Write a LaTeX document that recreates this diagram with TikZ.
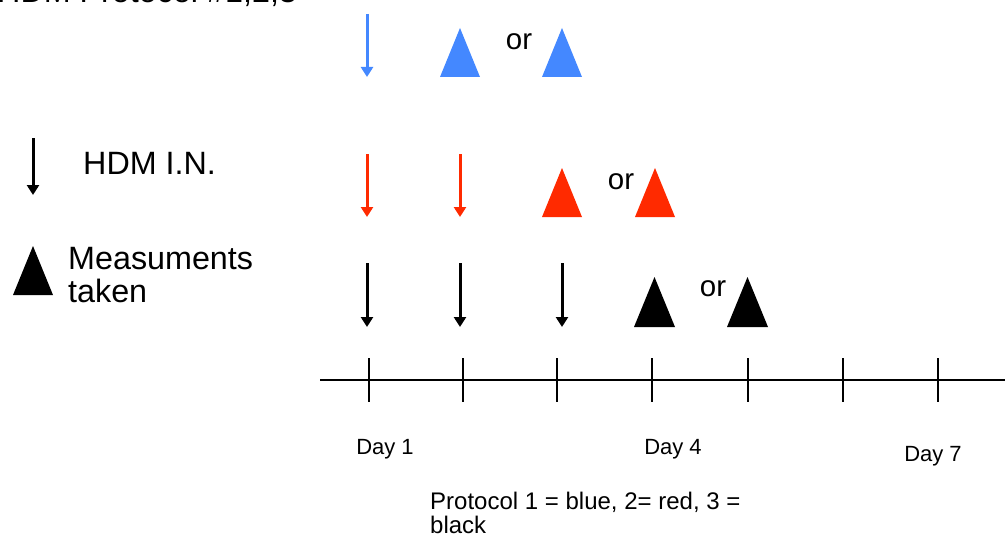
\documentclass[tikz,border=0pt]{standalone}
\usepackage{fontspec}
\setmainfont{Liberation Sans}
\usetikzlibrary{arrows.meta}
\definecolor{pblue}{RGB}{68,136,255}
\definecolor{pred}{RGB}{255,42,0}
\tikzset{
  down/.style={line width=3pt,-{Triangle[width=12pt,length=10pt]}},
  tri/.style={fill=#1},
  big/.style={font=\fontsize{32.3}{36}\selectfont, inner sep=0pt},
  ortext/.style={font=\fontsize{29.5}{34}\selectfont, inner sep=0pt},
  small/.style={font=\fontsize{22}{26}\selectfont, inner sep=0pt},
  note/.style={font=\fontsize{24}{24}\selectfont, inner sep=0pt, align=left},
}
\begin{document}
\begin{tikzpicture}[x=1pt,y=-1pt]
\clip (0,0) rectangle (1005,535);
\useasboundingbox (0,0) rectangle (1005,535);
\fill[white] (0,0) rectangle (1005,535);

% title (cut off at top)
\node[big,anchor=base west] (title) at (-3,3) {HDM Protocol \#1,2,3};

% legend
\coordinate (la1) at (33,138);
\coordinate (la2) at (33,195);
\draw[down] (la1) -- (la2);
\node[big,anchor=base west] (hdm) at (83,174) {HDM I.N.};
\fill (13,295) -- (33,246) -- (53,295) -- cycle;
\node[big,anchor=base west,align=left] (meas) at (68,269) {Measuments};
\node[big,anchor=base west] (taken) at (68,302) {taken};

% protocol 1 (blue)
\coordinate (b1s) at (367,14); \coordinate (b1e) at (367,77);
\draw[down,pblue] (b1s) -- (b1e);
\fill[tri=pblue] (440,77) -- (460,28) -- (480,77) -- cycle;
\node[ortext] (or1) at (519,42) {or};
\fill[tri=pblue] (542,77) -- (562,28) -- (582,77) -- cycle;

% protocol 2 (red)
\coordinate (r1s) at (367,154); \coordinate (r1e) at (367,217);
\coordinate (r2s) at (460,154); \coordinate (r2e) at (460,217);
\draw[down,pred] (r1s) -- (r1e);
\draw[down,pred] (r2s) -- (r2e);
\fill[tri=pred] (542,217) -- (562,168) -- (582,217) -- cycle;
\node[ortext] (or2) at (621,182) {or};
\fill[tri=pred] (635,217) -- (655,168) -- (675,217) -- cycle;

% protocol 3 (black)
\coordinate (k1s) at (367,263); \coordinate (k1e) at (367,327);
\coordinate (k2s) at (460,263); \coordinate (k2e) at (460,327);
\coordinate (k3s) at (562,263); \coordinate (k3e) at (562,327);
\draw[down] (k1s) -- (k1e);
\draw[down] (k2s) -- (k2e);
\draw[down] (k3s) -- (k3e);
\fill (634,327) -- (654.5,277) -- (675,327) -- cycle;
\node[ortext] (or3) at (713,289) {or};
\fill (727,327) -- (747.5,277) -- (768,327) -- cycle;

% timeline
\coordinate (ts) at (320,380); \coordinate (te) at (1005,380);
\draw[line width=2.5pt] (ts) -- (te);
\foreach \x in {369,463,557,652,748,843,938}{
  \draw[line width=2.5pt] (\x,358) -- (\x,402);
}
\node[small] (d1) at (385,449) {Day 1};
\node[small] (d4) at (673,449) {Day 4};
\node[small] (d7) at (933,456) {Day 7};

\node[note,anchor=base west] (prot) at (430,533.5) {Protocol 1 = blue, 2= red, 3 =\\black};
\end{tikzpicture}
\end{document}
